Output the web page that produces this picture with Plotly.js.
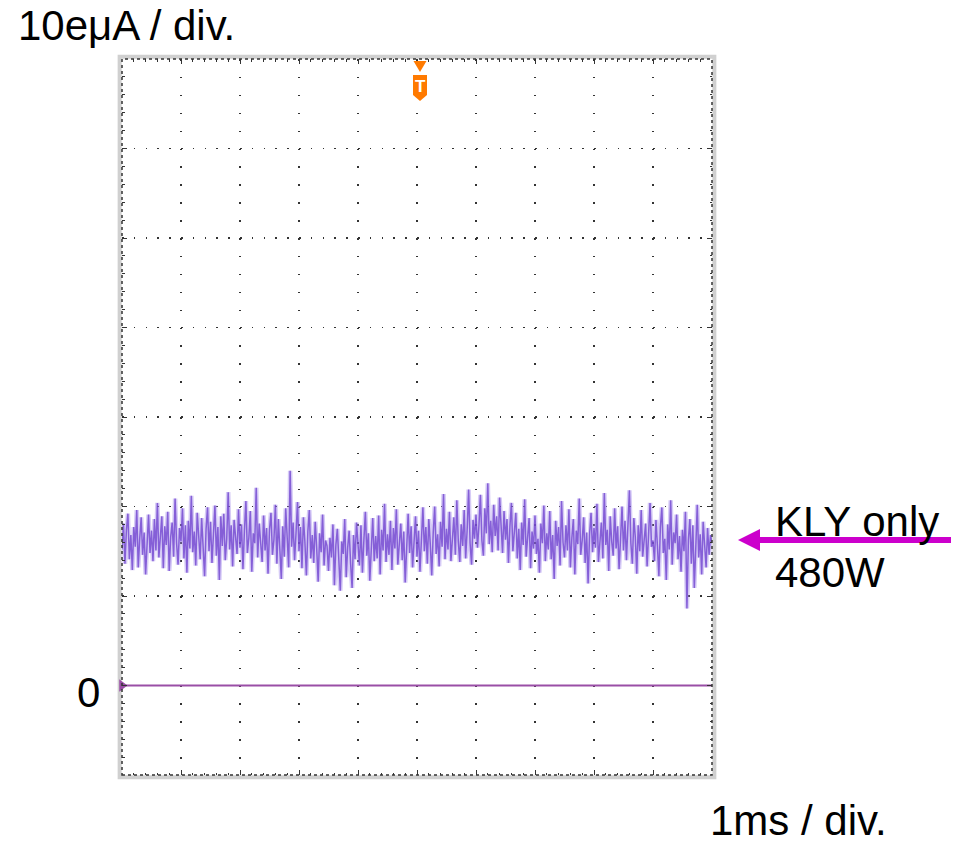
<!DOCTYPE html>
<html>
<head>
<meta charset="utf-8">
<script src="https://cdn.plot.ly/plotly-3.0.1.min.js"></script>
<style>html,body{margin:0;padding:0;background:#fff;}#chart{width:961px;height:843px;}</style>
</head>
<body>
<div id="chart"></div>
<script>
// ---- data (time in ms, current in µA; 10 µA / div, 1 ms / div) ----
const time_start_ms = 0;
const time_end_ms = 10;
const ground_level_uA = 0;
const trigger_time_ms = 5;
const current_kly_only_uA = [
15.2,18.1,13.6,17.4,19.2,14.1,16.8,12.9,17.7,15.5,19.6,13.2,16.4,18.8,14.6,17.1,12.4,16.9,19.1,14.8,
17.3,13.9,18.6,15.1,20.4,14.3,16.2,18.9,13.1,17.8,15.7,19.4,12.8,16.6,18.2,14.4,20.9,15.9,13.5,17.6,
16.1,19.8,14.2,17.9,12.6,18.4,15.3,21.2,14.9,17.2,13.4,19.3,16.7,14.1,18.7,15.8,12.2,17.5,19.9,15.0,
18.3,13.7,16.9,20.1,14.5,17.7,11.8,18.9,15.6,19.2,14.0,16.4,21.6,15.2,17.9,13.3,18.5,16.0,14.7,19.7,
15.4,18.0,13.0,17.3,20.6,14.8,16.5,19.5,12.7,17.0,15.9,22.1,14.3,18.1,16.2,13.8,19.0,15.1,17.6,12.5,
17.4,19.3,14.6,16.3,20.2,13.6,18.6,15.7,11.9,17.8,14.4,19.8,16.6,13.2,24.0,15.5,18.2,14.0,17.1,20.5,
15.0,17.7,13.1,18.8,16.0,12.3,17.2,19.6,14.2,16.8,13.7,18.3,15.3,11.6,17.0,14.9,19.1,13.4,16.2,15.6,
12.8,16.5,14.3,18.0,11.2,15.7,17.5,13.0,10.6,16.1,14.7,18.6,12.1,15.4,17.3,13.6,10.9,16.8,14.1,18.2,
15.2,13.4,17.9,12.6,16.3,19.4,14.5,17.0,11.7,15.9,18.7,13.9,16.7,14.2,19.0,12.4,17.4,15.1,20.3,13.8,
16.9,14.6,18.4,12.9,17.6,15.3,19.7,13.5,16.0,18.1,14.0,17.2,11.5,16.6,19.2,14.8,17.8,13.2,15.7,18.9,
14.4,17.3,12.7,16.2,19.9,15.0,17.7,13.6,18.6,15.8,12.3,17.1,20.0,14.7,16.9,13.3,18.3,15.5,21.4,14.1,
17.5,15.2,19.4,13.9,16.8,18.8,14.6,20.7,16.1,13.8,18.0,15.6,19.6,14.2,17.4,21.9,15.9,13.5,18.5,16.4,
19.1,15.4,17.9,21.3,16.2,14.5,19.8,17.0,22.6,15.8,18.4,14.9,20.2,16.7,18.9,15.1,21.0,17.3,14.8,19.5,
16.3,18.6,13.7,17.8,20.4,15.0,16.9,19.3,14.2,17.5,12.9,18.2,15.7,20.8,14.4,16.6,18.7,13.1,17.2,15.3,
19.0,14.7,16.4,12.6,18.1,15.9,20.1,13.9,17.0,15.2,19.5,14.1,16.8,11.9,18.4,15.6,17.7,13.4,20.6,16.0,
14.3,17.9,15.1,19.7,13.2,16.5,18.6,12.4,17.3,15.8,20.9,14.6,16.2,18.8,13.7,17.1,11.4,16.9,19.3,14.9,
17.6,15.4,20.3,13.8,16.7,18.2,14.2,21.5,15.7,17.4,12.8,18.9,16.1,14.5,19.8,15.3,17.8,13.0,16.4,20.0,
15.1,18.4,14.0,17.2,21.8,15.9,13.6,18.7,16.6,12.5,17.9,15.0,19.6,14.4,16.8,18.1,13.3,17.5,20.4,15.5,
16.2,13.9,18.5,15.6,12.2,17.7,19.9,14.8,16.4,11.8,18.0,15.2,20.7,13.5,17.1,15.9,19.1,14.1,16.7,12.7,
17.4,15.0,19.4,8.6,16.3,18.6,13.6,17.9,10.9,15.4,20.2,14.3,16.9,12.4,18.3,15.7,13.2,17.6,14.6,16.8,
15.9
];
const y_label = "10eμA / div.";
const x_label = "1ms / div.";
const zero_label = "0";
const note_line1 = "KLY only";
const note_line2 = "480W";

// ---- build ----
const n = current_kly_only_uA.length;
const dt = (time_end_ms - time_start_ms) / (n - 1);
const t = current_kly_only_uA.map((_, i) => time_start_ms + i * dt);

const FONT = "Liberation Sans, Arial, sans-serif";
const L = 122, T = 59, W = 590, H = 716;
const px = v => (v - L) / W;
const py = v => (T + H - v) / H;

const traces = [
  { x: [time_start_ms, time_end_ms], y: [ground_level_uA, ground_level_uA], mode: 'lines',
    line: { color: '#9a4ea6', width: 2 }, hoverinfo: 'skip', showlegend: false },
  { x: t, y: current_kly_only_uA, mode: 'lines',
    line: { color: 'rgba(165,140,236,0.45)', width: 4.5 }, hoverinfo: 'skip', showlegend: false },
  { x: t, y: current_kly_only_uA, mode: 'lines',
    line: { color: 'rgba(112,68,208,0.8)', width: 1.5 }, hoverinfo: 'skip', showlegend: false },
  { x: [time_start_ms], y: [ground_level_uA], mode: 'markers', cliponaxis: false,
    marker: { symbol: 'triangle-right', size: 11, color: '#9a4ea6' }, hoverinfo: 'skip', showlegend: false }
];

const axCommon = {
  showticklabels: false, zeroline: false, showline: false, fixedrange: true,
  ticks: 'inside', ticklen: 5, tickwidth: 1, tickcolor: '#333', mirror: 'allticks',
  showgrid: true, gridcolor: '#333', gridwidth: 1.5
};

const layout = {
  width: 961, height: 843,
  margin: { l: L, r: 961 - L - W, t: T, b: 843 - T - H, pad: 0 },
  paper_bgcolor: '#fff', plot_bgcolor: '#fff',
  showlegend: false,
  xaxis: Object.assign({}, axCommon, {
    range: [time_start_ms, time_end_ms], dtick: 1, tick0: 0,
    griddash: '1.5px,16.4px',
    minor: { dtick: 0.2, ticks: 'inside', ticklen: 2.5, tickcolor: '#333', showgrid: false }
  }),
  yaxis: Object.assign({}, axCommon, {
    range: [-10, 70], dtick: 10, tick0: 0,
    griddash: '1.5px,10.3px',
    minor: { dtick: 2, ticks: 'inside', ticklen: 2.5, tickcolor: '#333', showgrid: false }
  }),
  shapes: [
    { type: 'rect', xref: 'paper', yref: 'paper', x0: -0.004, x1: 1.004, y0: -0.003, y1: 1.003,
      line: { color: '#d0d0d0', width: 4 }, layer: 'below' },
    { type: 'rect', xref: 'paper', yref: 'paper', x0: 0, x1: 1, y0: 0, y1: 1,
      line: { color: '#333', width: 1.5, dash: 'dot' } },
    { type: 'line', xref: 'paper', yref: 'paper', x0: px(756), x1: px(951), y0: py(540), y1: py(540),
      line: { color: '#cc00cc', width: 6 } },
    { type: 'path', xref: 'paper', yref: 'paper',
      path: `M ${px(738)} ${py(540)} L ${px(760)} ${py(529)} L ${px(760)} ${py(551)} Z`,
      fillcolor: '#cc00cc', line: { color: '#cc00cc', width: 0 } },
    { type: 'path', xref: 'paper', yref: 'paper',
      path: `M ${px(413.5)} ${py(61)} L ${px(426.5)} ${py(61)} L ${px(420)} ${py(72)} Z`,
      fillcolor: '#ff7a00', line: { color: '#ff7a00', width: 0 } },
    { type: 'path', xref: 'paper', yref: 'paper',
      path: `M ${px(413)} ${py(75)} L ${px(427)} ${py(75)} L ${px(427)} ${py(95)} L ${px(420)} ${py(101)} L ${px(413)} ${py(95)} Z`,
      fillcolor: '#ff7a00', line: { color: '#ff7a00', width: 0 } }
  ],
  annotations: [
    { xref: 'paper', yref: 'paper', x: px(16), y: py(25), xanchor: 'left', yanchor: 'middle',
      text: y_label, showarrow: false, font: { family: FONT, size: 42, color: '#000' } },
    { xref: 'paper', yref: 'paper', x: px(708), y: py(820), xanchor: 'left', yanchor: 'middle',
      text: x_label, showarrow: false, font: { family: FONT, size: 42, color: '#000' } },
    { xref: 'paper', yref: 'paper', x: px(88), y: py(692), xanchor: 'center', yanchor: 'middle',
      text: zero_label, showarrow: false, font: { family: FONT, size: 42, color: '#000' } },
    { xref: 'paper', yref: 'paper', x: px(773), y: py(521), xanchor: 'left', yanchor: 'middle',
      text: note_line1, showarrow: false, font: { family: FONT, size: 42, color: '#000' } },
    { xref: 'paper', yref: 'paper', x: px(773), y: py(572), xanchor: 'left', yanchor: 'middle',
      text: note_line2, showarrow: false, font: { family: FONT, size: 42, color: '#000' } },
    { xref: 'paper', yref: 'paper', x: px(420), y: py(86), xanchor: 'center', yanchor: 'middle',
      text: '<b>T</b>', showarrow: false, font: { family: FONT, size: 17, color: '#fff' } }
  ]
};

Plotly.newPlot('chart', traces, layout, { staticPlot: true, displayModeBar: false });
</script>
</body>
</html>
